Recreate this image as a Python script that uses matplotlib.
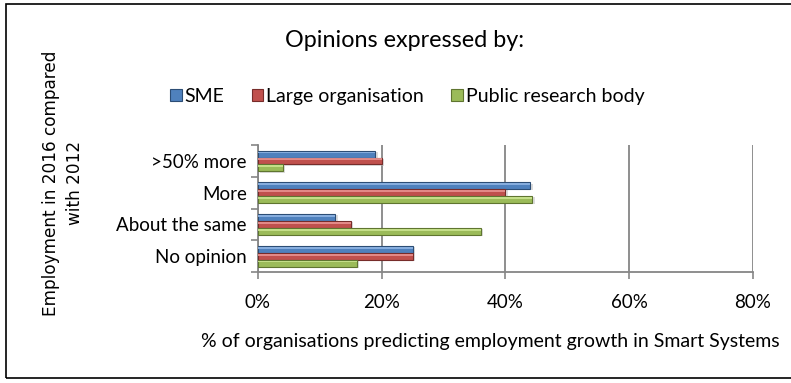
import matplotlib.pyplot as plt
import numpy as np
from matplotlib.patches import Patch, Rectangle
from matplotlib.ticker import FuncFormatter

categories = [">50% more", "More", "About the same", "No opinion"]
series = ["SME", "Large organisation", "Public research body"]
sme = [19, 44, 12.5, 25]
large = [20, 40, 15, 25]
public = [4, 44.3, 36, 16]

colors = ["#4F81BD", "#C0504D", "#9BBB59"]
edges = ["#2C4D75", "#772C2A", "#5F7530"]
lights = ["#8DB3E2", "#E6908E", "#C9E38E"]

FONT = "Lato"

fig = plt.figure(figsize=(7.91, 3.83), dpi=100)
ax = fig.add_axes([0.326, 0.290, 0.626, 0.331])

y = np.arange(len(categories))
h = 0.22
offsets = [-h, 0, h]
for vals, off, c, ec, lc in zip([sme, large, public], offsets, colors, edges, lights):
    pos = y + off
    # drop shadow
    ax.barh(pos + 0.04, vals, height=h, left=0.4, color="#BBBBBB", alpha=0.5,
            zorder=2, linewidth=0)
    ax.barh(pos, vals, height=h, color=c, edgecolor=ec, linewidth=0.8, zorder=3)
    # bevel highlight on the upper half
    ax.barh(pos - h * 0.22, vals, height=h * 0.28, color=lc, linewidth=0,
            zorder=4, alpha=0.9)

ax.set_xlim(0, 80)
ax.set_ylim(len(categories) - 0.5, -0.5)
ax.set_xticks([0, 20, 40, 60, 80])
ax.xaxis.set_major_formatter(FuncFormatter(lambda v, p: f"{v:.0f}%"))
ax.set_yticks(y)
ax.set_yticklabels(categories)
ax.set_yticks(np.arange(-0.5, len(categories)), minor=True)
ax.tick_params(axis="y", which="major", length=0, pad=8, labelsize=13.5)
ax.tick_params(axis="y", which="minor", length=5, color="#868686", width=1.2)
ax.tick_params(axis="x", length=5, color="#868686", width=1.2, pad=11,
               labelsize=13.5)
for lab in ax.get_xticklabels() + ax.get_yticklabels():
    lab.set_fontfamily(FONT)

ax.grid(axis="x", color="#868686", linewidth=1.3, zorder=0)
ax.set_axisbelow(True)
for side in ["top", "right"]:
    ax.spines[side].set_visible(False)
for side in ["left", "bottom"]:
    ax.spines[side].set_color("#868686")
    ax.spines[side].set_linewidth(1.3)

ax.set_xlabel("% of organisations predicting employment growth in Smart Systems",
              fontfamily=FONT, fontsize=14)
ax.xaxis.set_label_coords(0.47, -0.485)
fig.text(0.080, 0.522, "Employment in 2016 compared\nwith 2012", rotation=90,
         ha="center", va="center", fontsize=12.2, fontfamily="DejaVu Sans",
         linespacing=1.45)

fig.text(0.511, 0.893, "Opinions expressed by:", ha="center", va="center",
         fontsize=16.8, fontfamily=FONT)

handles = [Patch(facecolor=c, edgecolor=ec, linewidth=0.8)
           for c, ec in zip(colors, edges)]
fig.legend(handles, series, loc="center", bbox_to_anchor=(0.515, 0.749), ncol=3,
           frameon=False, prop={"family": FONT, "size": 14},
           handlelength=0.6, handleheight=0.6, handletextpad=0.15,
           columnspacing=1.4)

# outer chart frame, open on the right
fig.patches.append(Rectangle((0.0076, 0.013), 1.2, 0.976, transform=fig.transFigure,
                             fill=False, edgecolor="black", linewidth=1.2))

fig.savefig("out.png", dpi=100)
